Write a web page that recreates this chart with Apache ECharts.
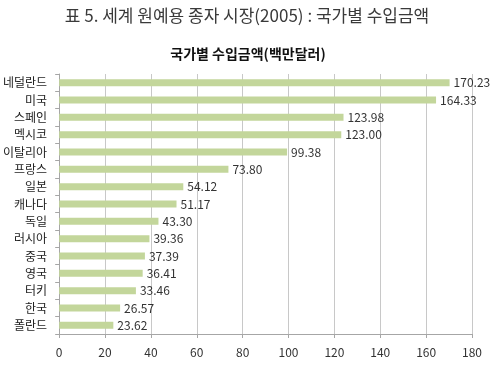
<!DOCTYPE html>
<html><head><meta charset="utf-8">
<script src="https://cdn.jsdelivr.net/npm/echarts@6/dist/echarts.min.js"></script>
<style>html,body{margin:0;padding:0;background:#fff}#c{width:500px;height:367px}</style>
</head><body><div id="c"></div>
<script>
const categories = ['네덜란드','미국','스페인','멕시코','이탈리아','프랑스','일본','캐나다','독일','러시아','중국','영국','터키','한국','폴란드'];
const values = [170.23,164.33,123.98,123.00,99.38,73.80,54.12,51.17,43.30,39.36,37.39,36.41,33.46,26.57,23.62];
const xTicks = [0,20,40,60,80,100,120,140,160,180];
const titleText = '표 5. 세계 원예용 종자 시장(2005) : 국가별 수입금액';
const subtitleText = '국가별 수입금액(백만달러)';
const FONT = '"Noto Sans CJK KR", "Malgun Gothic", sans-serif';
const chart = echarts.init(document.getElementById('c'), null, {renderer:'canvas'});
chart.setOption({
  animation:false,
  textStyle:{fontFamily:FONT},
  title:[
    {text:titleText,left:242,textAlign:'center',top:2,textStyle:{fontFamily:FONT,fontSize:17,fontWeight:'normal',color:'#3a3a3a'}},
    {text:subtitleText,left:243,textAlign:'center',top:42,textStyle:{fontFamily:FONT,fontSize:14,fontWeight:'bold',color:'#111'}}
  ],
  grid:{left:58,right:28,top:74,bottom:33,containLabel:false},
  xAxis:{type:'value',min:xTicks[0],max:xTicks[xTicks.length-1],interval:20,
    axisLine:{show:true,lineStyle:{color:'#a6a6a6'}},
    axisTick:{show:true,length:4,lineStyle:{color:'#a6a6a6'}},
    splitLine:{show:true,lineStyle:{color:'#c8c8c8'}},
    axisLabel:{color:'#333',fontSize:12,margin:12,fontFamily:FONT}},
  yAxis:{type:'category',data:categories,inverse:true,
    axisLine:{show:true,lineStyle:{color:'#a6a6a6'}},
    axisTick:{show:true,length:4,lineStyle:{color:'#a6a6a6'}},
    axisLabel:{color:'#222',fontSize:12,margin:12,fontFamily:FONT}},
  series:[{type:'bar',data:values,barWidth:7,itemStyle:{color:'#c3d69b'},
    label:{show:true,position:'right',distance:4,color:'#333',fontSize:12,fontFamily:FONT,formatter:p=>p.value.toFixed(2)}}]
});
</script></body></html>
